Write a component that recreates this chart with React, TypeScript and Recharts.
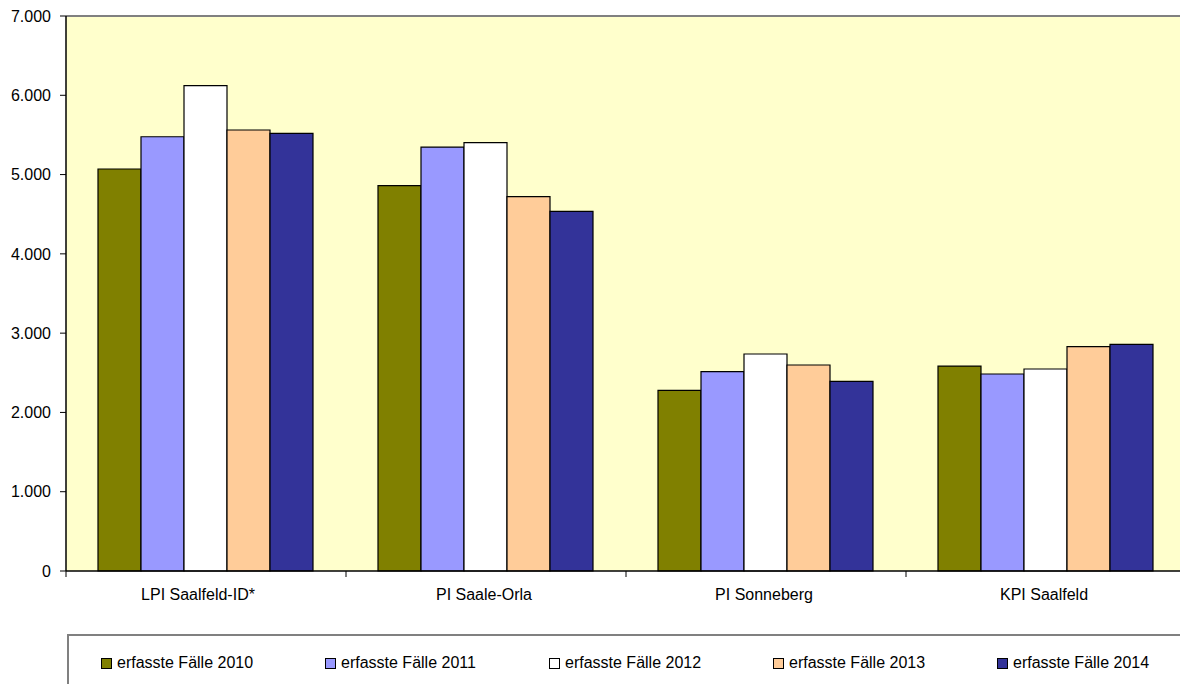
import React from 'react';
import {
  BarChart,
  Bar,
  XAxis,
  YAxis,
  CartesianGrid,
  ReferenceLine
} from 'recharts';

const dienststellen = ['LPI Saalfeld-ID*', 'PI Saale-Orla', 'PI Sonneberg', 'KPI Saalfeld'];

const faelle2010 = [5070, 4860, 2279, 2585];
const faelle2011 = [5477, 5347, 2514, 2485];
const faelle2012 = [6121, 5402, 2737, 2548];
const faelle2013 = [5562, 4721, 2598, 2829];
const faelle2014 = [5520, 4536, 2392, 2859];

const yTicks = [0, 1000, 2000, 3000, 4000, 5000, 6000, 7000];

const series = [
  { key: 'f2010', name: 'erfasste Fälle 2010', values: faelle2010, color: '#808000' },
  { key: 'f2011', name: 'erfasste Fälle 2011', values: faelle2011, color: '#9999FF' },
  { key: 'f2012', name: 'erfasste Fälle 2012', values: faelle2012, color: '#FFFFFF' },
  { key: 'f2013', name: 'erfasste Fälle 2013', values: faelle2013, color: '#FFCC99' },
  { key: 'f2014', name: 'erfasste Fälle 2014', values: faelle2014, color: '#333399' }
];

const data = dienststellen.map((name, i) => {
  const row: Record<string, string | number> = { name };
  series.forEach((s) => {
    row[s.key] = s.values[i];
  });
  return row;
});

const FONT = '"Liberation Sans", Arial, sans-serif';

// Tausenderpunkt wie in der Vorlage
const formatTick = (v: number) => String(v).replace(/\B(?=(\d{3})+(?!\d))/g, '.');

// Label in der Mitte, Teilstrich an der Kategoriegrenze
const CategoryTick = (props: any) => {
  const { x, y, payload } = props;
  const half = payload.offset || 0;
  const shift = payload.index === 0 ? -8 : -2; // erstes Label sitzt in der Vorlage etwas links
  return (
    <g>
      <line x1={x - half} x2={x - half} y1={y - 8} y2={y - 2} stroke="#000" strokeWidth={1} />
      <text x={x + shift} y={y + 21} textAnchor="middle" fill="#000" fontSize={16} fontFamily={FONT}>
        {payload.value}
      </text>
    </g>
  );
};

const App = () => {
  return (
    <div
      style={{
        position: 'absolute',
        left: 0,
        top: 0,
        width: 1180,
        height: 684,
        overflow: 'hidden',
        background: '#fff',
        fontFamily: FONT
      }}
    >
      <BarChart
        width={1200}
        height={684}
        data={data}
        margin={{ top: 16, right: 14, left: 0, bottom: 83 }}
        barCategoryGap={32}
        barGap={0}
      >
        <CartesianGrid horizontal={false} vertical={false} fill="#FFFFCC" />
        <XAxis
          dataKey="name"
          height={30}
          axisLine={{ stroke: '#000', strokeWidth: 1.5 }}
          tickLine={false}
          interval={0}
          tick={<CategoryTick />}
        />
        <YAxis
          width={66}
          domain={[0, 7000]}
          ticks={yTicks}
          tickFormatter={formatTick}
          axisLine={{ stroke: '#000', strokeWidth: 1.5 }}
          tickLine={{ stroke: '#000' }}
          tickSize={6}
          tickMargin={9}
          tick={{ fill: '#000', fontSize: 16, fontFamily: FONT }}
        />
        <ReferenceLine y={7000} stroke="#808080" strokeWidth={2} />
        {series.map((s) => (
          <Bar
            key={s.key}
            dataKey={s.key}
            name={s.name}
            fill={s.color}
            stroke="#000"
            strokeWidth={1.2}
            isAnimationActive={false}
          />
        ))}
      </BarChart>
      <div
        style={{
          position: 'absolute',
          left: 67,
          top: 634,
          width: 1200,
          height: 100,
          borderTop: '2px solid #808080',
          borderLeft: '2px solid #808080',
          boxSizing: 'border-box'
        }}
      >
        <div style={{ position: 'absolute', left: 32, top: 18, display: 'flex' }}>
          {series.map((s) => (
            <div
              key={s.key}
              style={{ width: 224, display: 'flex', alignItems: 'center', fontSize: 16, color: '#000' }}
            >
              <span
                style={{
                  display: 'inline-block',
                  width: 9,
                  height: 9,
                  background: s.color,
                  border: '1px solid #000',
                  marginRight: 5
                }}
              />
              <span>{s.name}</span>
            </div>
          ))}
        </div>
      </div>
    </div>
  );
};

export default App;
